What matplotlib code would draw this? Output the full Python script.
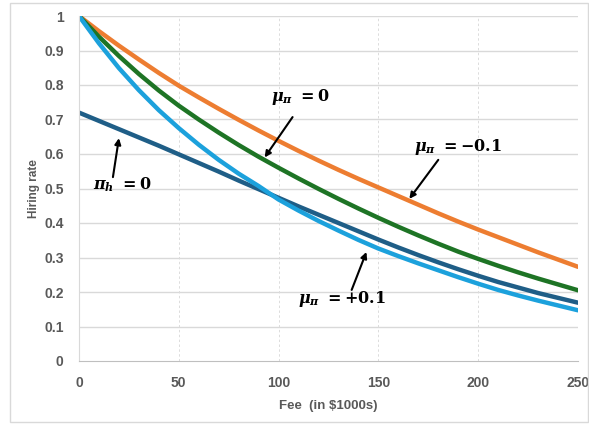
import numpy as np
import matplotlib.pyplot as plt
from matplotlib.patches import Rectangle

# Fee levels (in $1000s) and hiring rates for each scenario
fee = [0, 10, 20, 30, 40, 50, 60, 70, 80, 90, 100, 110, 120,
       130, 140, 150, 160, 170, 180, 190, 200, 210, 220, 230, 240, 250]
rate_mu_neg = [1.0, 0.956, 0.914, 0.874, 0.835, 0.798, 0.764, 0.731, 0.699, 0.668,
               0.638, 0.609, 0.581, 0.554, 0.528, 0.503, 0.478, 0.453, 0.428, 0.404,
               0.381, 0.359, 0.337, 0.315, 0.294, 0.273]
rate_mu_zero = [1.0, 0.94, 0.884, 0.832, 0.784, 0.74, 0.70, 0.662, 0.626, 0.592,
                0.56, 0.529, 0.499, 0.47, 0.442, 0.415, 0.389, 0.364, 0.34, 0.317,
                0.296, 0.276, 0.257, 0.239, 0.222, 0.205]
rate_mu_pos = [1.0, 0.921, 0.849, 0.785, 0.727, 0.675, 0.627, 0.583, 0.543, 0.507,
               0.468, 0.436, 0.406, 0.378, 0.351, 0.326, 0.304, 0.283, 0.263, 0.243,
               0.224, 0.206, 0.19, 0.175, 0.161, 0.147]
rate_pi_h0 = [0.72, 0.696, 0.672, 0.648, 0.624, 0.599, 0.574, 0.549, 0.523, 0.498,
              0.473, 0.448, 0.424, 0.40, 0.376, 0.352, 0.329, 0.307, 0.286, 0.266,
              0.247, 0.229, 0.213, 0.197, 0.183, 0.169]

plt.rcParams['mathtext.fontset'] = 'custom'
plt.rcParams['mathtext.it'] = 'DejaVu Serif:bold:italic'
plt.rcParams['mathtext.rm'] = 'DejaVu Serif:bold'
plt.rcParams['mathtext.bf'] = 'DejaVu Serif:bold'

grey = '#595959'

fig = plt.figure(figsize=(5.89, 4.24), dpi=100)
fig.patches.append(Rectangle((10 / 589, 2 / 424), 578 / 589, 419 / 424,
                             transform=fig.transFigure, fill=False,
                             edgecolor='#d9d9d9', linewidth=1.0))
ax = fig.add_axes([79 / 589, 1 - 361 / 424, 499 / 589, 345 / 424])

ax.plot(fee, rate_mu_neg, color='#ED7D31', linewidth=3.2, solid_capstyle='round')
ax.plot(fee, rate_mu_zero, color='#1E7425', linewidth=3.2, solid_capstyle='round')
ax.plot(fee, rate_pi_h0, color='#1F5E87', linewidth=3.2, solid_capstyle='round')
ax.plot(fee, rate_mu_pos, color='#1CA1DC', linewidth=3.2, solid_capstyle='round')

ax.set_xlim(0, 250)
ax.set_ylim(0, 1)
ax.set_xticks(np.arange(0, 251, 50))
ax.set_yticks(np.arange(0, 1.01, 0.1))
ax.set_yticklabels(['0', '0.1', '0.2', '0.3', '0.4', '0.5', '0.6', '0.7', '0.8', '0.9', '1'])

# horizontal grid solid, vertical grid dashed
for y in np.arange(0.1, 1.01, 0.1):
    ax.axhline(y, color='#d9d9d9', linewidth=1.0, zorder=0)
for x in np.arange(50, 251, 50):
    ax.axvline(x, color='#dcdcdc', linewidth=0.7, linestyle=(0, (2.5, 2.5)), zorder=0)

for side in ['top', 'right']:
    ax.spines[side].set_visible(False)
ax.spines['left'].set_color('#d9d9d9')
ax.spines['bottom'].set_color('#bfbfbf')
ax.tick_params(length=0, labelsize=10, labelcolor=grey)
ax.tick_params(axis='x', pad=11)
ax.tick_params(axis='y', pad=11)
for lbl in ax.get_xticklabels() + ax.get_yticklabels():
    lbl.set_fontweight('bold')
    lbl.set_family('Liberation Sans')

ax.set_xlabel('Fee  (in \\$1000s)', fontsize=9.5, fontweight='bold', color=grey,
              family='Liberation Sans', labelpad=7)
ax.set_ylabel('Hiring rate', fontsize=8.5, fontweight='bold', color=grey,
              family='Liberation Sans', labelpad=3)

arrow = dict(arrowstyle='-|>', color='black', lw=1.5, mutation_scale=9,
             shrinkA=0, shrinkB=0)
labels = [
    (r'$\mu_\pi\ =0$', (111, 0.765), (107, 0.707), (93, 0.59)),
    (r'$\mu_\pi\ =-0.1$', (190, 0.62), (180, 0.583), (165.5, 0.47)),
    (r'$\pi_h\ =0$', (21.5, 0.51), (17, 0.533), (20, 0.646)),
    (r'$\mu_\pi\ =+0.1$', (131.5, 0.18), (136.6, 0.206), (144, 0.316)),
]
for text, pos, tail, head in labels:
    ax.text(pos[0], pos[1], text, fontsize=11.5, ha='center', va='center')
    ax.annotate('', xy=head, xytext=tail, arrowprops=arrow)

fig.savefig('out.png', dpi=100)
